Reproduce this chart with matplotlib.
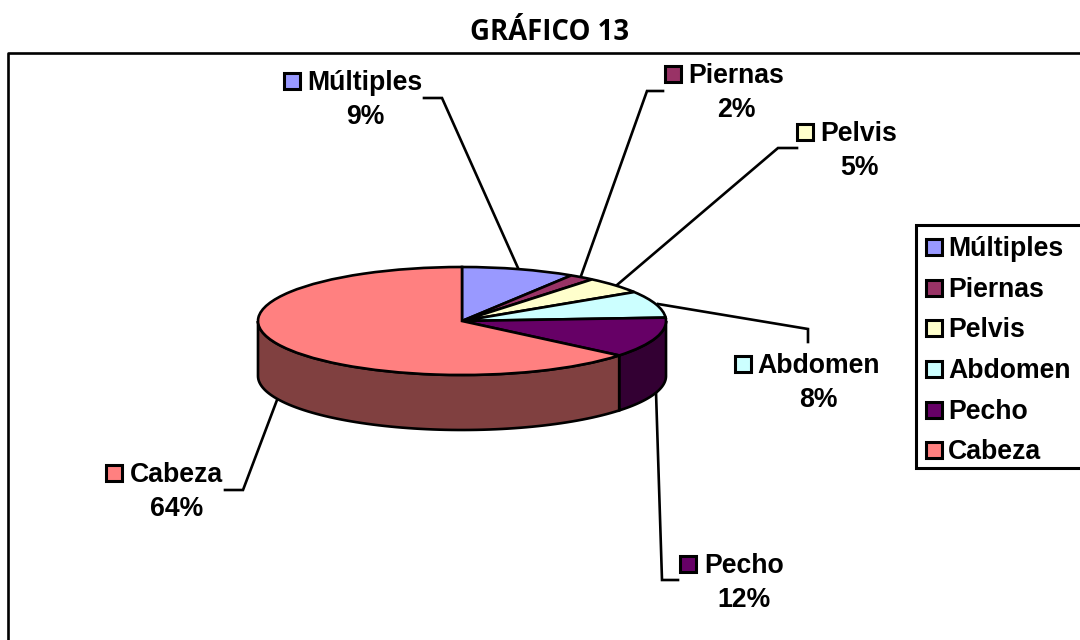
import numpy as np
import matplotlib
matplotlib.use('Agg')
import matplotlib.pyplot as plt
from matplotlib.patches import Rectangle

title = 'GRÁFICO 13'
categories = ['Múltiples', 'Piernas', 'Pelvis', 'Abdomen', 'Pecho', 'Cabeza']
values = [9, 2, 5, 8, 12, 64]
colors = ['#9999FF', '#993366', '#FFFFCC', '#CCFFFF', '#660066', '#FF8080']
side_colors = {'Pecho': '#330033', 'Cabeza': '#804040'}

# layout in pixels: swatch left/top, text left, text centre y, percent centre x/y
label_layout = [
    (284, 73, 307, 80, 365, 114),
    (665, 66, 688, 73, 736, 107),
    (797, 124, 820, 131, 859, 165),
    (735, 356, 757, 363, 818, 397),
    (680, 556, 704, 563, 744, 597),
    (106, 465, 130, 472, 177, 506),
]
leaders = [
    [(424, 98), (442, 98), (518, 268)],
    [(663, 91), (647, 91), (581, 276)],
    [(797, 148), (778, 148), (617, 285)],
    [(658, 304), (808, 329), (808, 342)],
    [(656, 392), (662, 580), (678, 580)],
    [(277, 400), (243, 490), (225, 490)],
]
legend_y = [247, 288, 328, 369, 410, 450]

W, H = 1080, 640
CX, CY, RX, RY, DEPTH = 462, 321, 204, 54, 55
LW = 1.9

plt.rcParams['font.family'] = 'Liberation Sans'
fig = plt.figure(figsize=(W / 100, H / 100), dpi=100)

ax = fig.add_axes([0, 0, 1, 1])
ax.set_xlim(0, W)
ax.set_ylim(H, 0)
ax.axis('off')

# frame, only left and top are inside the picture
ax.plot([8, 8, W + 5], [H + 5, 53, 53], color='black', lw=LW, clip_on=False)
ax.text(549, 32, title, ha='center', va='center', fontsize=19.8, family='Open Sans',
        fontweight='bold')

for pts in leaders:
    xs, ys = zip(*pts)
    ax.plot(xs, ys, color='black', lw=LW, solid_joinstyle='miter')


def swatch(x, y, color):
    ax.add_patch(Rectangle((x, y), 16, 16, facecolor=color, edgecolor='black', lw=LW + 0.3))


for name, val, col, lay in zip(categories, values, colors, label_layout):
    swatch(lay[0], lay[1], col)
    ax.text(lay[2], lay[3], name, ha='left', va='center_baseline', fontsize=19.2, fontweight='bold')
    ax.text(lay[4], lay[5], '%d%%' % val, ha='center', va='center_baseline', fontsize=19.2, fontweight='bold')

# legend box
ax.add_patch(Rectangle((916, 225), 200, 243, facecolor='white', edgecolor='black', lw=LW + 0.3))
for name, col, y in zip(categories, colors, legend_y):
    swatch(926, y - 8, col)
    ax.text(948, y - 1, name, ha='left', va='center_baseline', fontsize=19.2, fontweight='bold')

# pie on its own axes, squashed by the axis scales
pie_ax = fig.add_axes([0, 0, 1, 1])
pie_ax.pie(values, colors=colors, startangle=90, counterclock=False,
           wedgeprops={'edgecolor': 'black', 'linewidth': LW, 'zorder': 3})
pie_ax.set_aspect('auto')
pie_ax.set_xlim(-CX / RX, (W - CX) / RX)
pie_ax.set_ylim(-(H - CY) / RY, CY / RY)
pie_ax.patch.set_visible(False)

# side wall for the slices on the front half
depth = DEPTH / RY
edges = np.cumsum([0] + values) / sum(values)
for i, name in enumerate(categories):
    start, end = max(edges[i], 0.25), min(edges[i + 1], 0.75)
    if start >= end:
        continue
    theta = np.radians(90 - 360 * np.linspace(start, end, 80))
    x, y = np.cos(theta), np.sin(theta)
    pie_ax.fill(np.r_[x, x[::-1]], np.r_[y, y[::-1] - depth], facecolor=side_colors[name],
                edgecolor='black', linewidth=LW, zorder=2)

fig.savefig('out.png', dpi=100)
